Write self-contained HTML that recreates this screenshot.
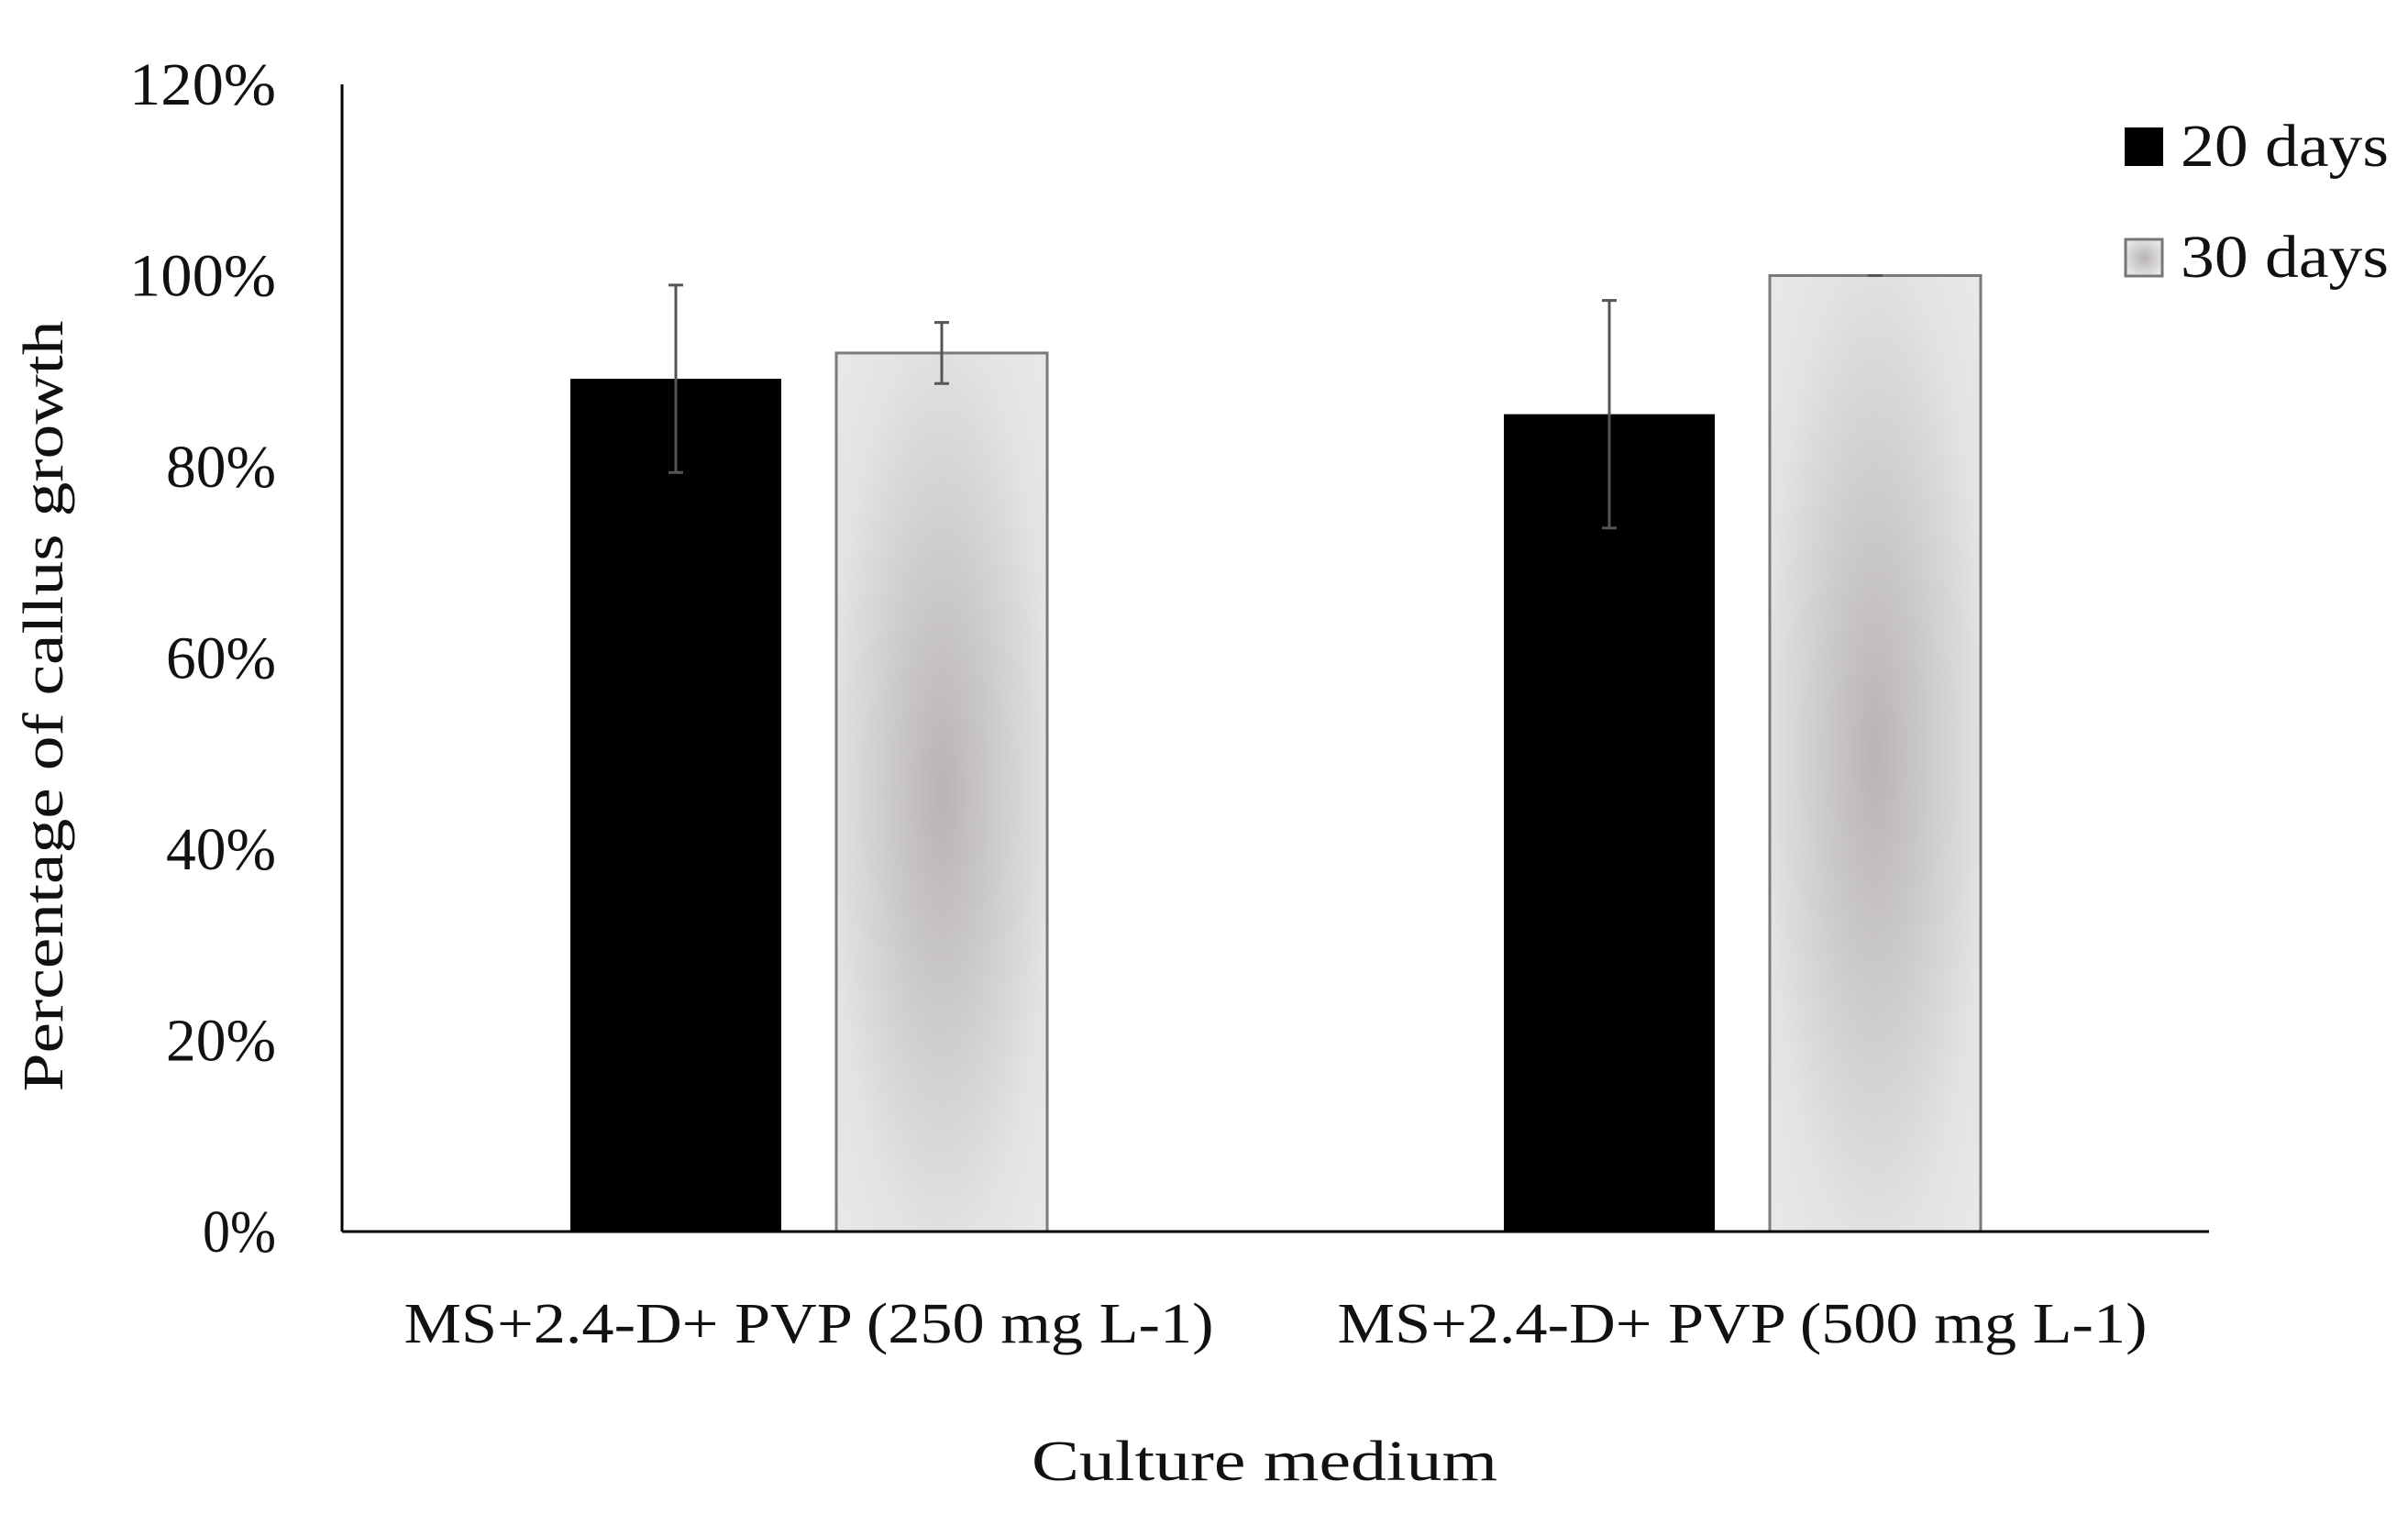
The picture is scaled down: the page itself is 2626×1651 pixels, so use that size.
<!DOCTYPE html>
<html><head><meta charset="utf-8"><style>
html,body{margin:0;padding:0;background:#fff}
svg{display:block}
text{font-family:"Liberation Serif",serif;fill:#111}
</style></head><body>
<svg id="chart" width="2626" height="1651" viewBox="0 0 2626 1651" xmlns="http://www.w3.org/2000/svg">
<defs>
<radialGradient id="greyGrad" cx="0.5" cy="0.5" r="0.75">
<stop offset="0" stop-color="#b8b4b3"/>
<stop offset="0.7" stop-color="#e3e3e3"/>
<stop offset="1" stop-color="#eaeaea"/>
</radialGradient>
</defs>
<g id="plot"></g>
<text transform="translate(68,770) rotate(-90)" text-anchor="middle" font-size="62" textLength="841" lengthAdjust="spacingAndGlyphs">Percentage of callus growth</text>
<text x="1379" y="1614" text-anchor="middle" font-size="62" textLength="508" lengthAdjust="spacingAndGlyphs">Culture medium</text>
<g>
<rect x="2317" y="139" width="42" height="42" fill="#000"/>
<text x="2378" y="181" font-size="66" textLength="227" lengthAdjust="spacingAndGlyphs">20 days</text>
<rect x="2318" y="261" width="40" height="40" fill="url(#greyGrad)" stroke="#777" stroke-width="3"/>
<text x="2378" y="302" font-size="66" textLength="227" lengthAdjust="spacingAndGlyphs">30 days</text>
</g>
</svg>
<script>
const categories = ["MS+2.4-D+ PVP (250 mg L-1)", "MS+2.4-D+ PVP (500 mg L-1)"];
const days20 = [89.2, 85.5];
const days30 = [91.9, 100];
const err20 = [9.8, 11.9];
const err30 = [3.2, 0];
const yTicks = [0, 20, 40, 60, 80, 100, 120];
const tickLabels = ["0%", "20%", "40%", "60%", "80%", "100%", "120%"];

const NS = "http://www.w3.org/2000/svg";
const g = document.getElementById("plot");
const x0 = 373, x1 = 2409, yBase = 1343, yTop = 92, yMax = 120;
function y(v){ return yBase - (v / yMax) * (yBase - yTop); }
const catW = (x1 - x0) / categories.length;
function cx(i){ return x0 + catW * (i + 0.5); }
const barW = 230, gap = 60;
function mk(tag, attrs){ const e = document.createElementNS(NS, tag); for (const k in attrs) e.setAttribute(k, attrs[k]); g.appendChild(e); return e; }

yTicks.forEach((t, i) => {
  const lbl = tickLabels[i];
  const tx = mk("text", {x: 301, y: y(t) + 22, "text-anchor": "end", "font-size": 66, textLength: lbl.length * 40, lengthAdjust: "spacingAndGlyphs"});
  tx.textContent = lbl;
  
  
});

categories.forEach((c, i) => {
  const bx1 = cx(i) - gap / 2 - barW;
  const b1 = mk("rect", {x: bx1, y: y(days20[i]), width: barW, height: yBase - y(days20[i]), fill: "#000"});
  
  
  const bx2 = cx(i) + gap / 2;
  const b2 = mk("rect", {x: bx2, y: y(days30[i]), width: barW, height: yBase - y(days30[i]), fill: "url(#greyGrad)", stroke: "#7a7a7a", "stroke-width": 3});
  
  
  [[bx1 + barW / 2, days20[i], err20[i]], [bx2 + barW / 2, days30[i], err30[i]]].forEach(([ex, v, e]) => {
    const eb = mk("path", {d: `M${ex},${y(v + e)}V${y(v - e)}M${ex - 8},${y(v + e)}H${ex + 8}M${ex - 8},${y(v - e)}H${ex + 8}`, stroke: "#555", "stroke-width": 3, fill: "none"});
    
    
  });
  const lab = mk("text", {x: cx(i), y: 1464, "text-anchor": "middle", "font-size": 62, textLength: 883, lengthAdjust: "spacingAndGlyphs"});
  lab.textContent = c;
  
  
});

const ya = mk("line", {x1: x0, y1: yTop, x2: x0, y2: yBase, stroke: "#000", "stroke-width": 3});


const xa = mk("line", {x1: x0, y1: yBase, x2: x1, y2: yBase, stroke: "#000", "stroke-width": 3});


</script>
</body></html>
